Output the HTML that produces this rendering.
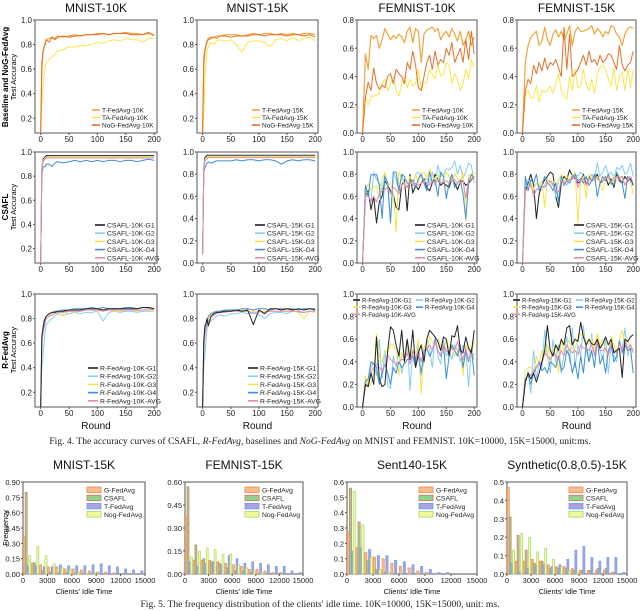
<!DOCTYPE html>
<html><head><meta charset="utf-8">
<style>
body{margin:0;background:#fff;}
svg{display:block;font-family:"Liberation Sans",sans-serif;}
.cap{font-family:"Liberation Serif",serif;font-size:9.6px;fill:#222;}
</style></head>
<body>
<svg id="fig" width="640" height="611" viewBox="0 0 640 611" xmlns="http://www.w3.org/2000/svg">
<text class="cap" x="320" y="444" text-anchor="middle">Fig. 4.  The accuracy curves of CSAFL, <tspan font-style="italic">R-FedAvg</tspan>, baselines and <tspan font-style="italic">NoG-FedAvg</tspan> on MNIST and FEMNIST. 10K=10000, 15K=15000, unit:ms.</text>
<text class="cap" x="320" y="607" text-anchor="middle">Fig. 5.  The frequency distribution of the clients' idle time. 10K=10000, 15K=15000, unit: ms.</text>
<g>
<text transform="translate(8,77) rotate(-90)" text-anchor="middle" font-size="8" font-weight="bold">Baseline and NoG-FedAvg</text>
<text transform="translate(16,77) rotate(-90)" text-anchor="middle" font-size="7.5">Test Accuracy</text></g>
<g>
<text transform="translate(8,207) rotate(-90)" text-anchor="middle" font-size="8" font-weight="bold">CSAFL</text>
<text transform="translate(16,207) rotate(-90)" text-anchor="middle" font-size="7.5">Test Accuracy</text></g>
<g>
<text transform="translate(8,350) rotate(-90)" text-anchor="middle" font-size="8" font-weight="bold">R-FedAvg</text>
<text transform="translate(16,350) rotate(-90)" text-anchor="middle" font-size="7.5">Test Accuracy</text></g>
<g>
<text transform="translate(8,528) rotate(-90)" text-anchor="middle" font-size="7.5">Frequency</text></g>
</svg>
<script>
// ---------- Fig 4 data ----------
const roundsM = [0,2,4,6,8,10,15,20,25,30,40,50,60,70,80,90,100,110,120,130,140,150,160,170,180,190,200];
const roundsF = [0,5,10,15,20,25,30,35,40,45,50,55,60,65,70,75,80,85,90,95,100,105,110,115,120,125,130,135,140,145,150,155,160,165,170,175,180,185,190,195,200];

const m10T  = [0.08,0.6,0.72,0.78,0.82,0.84,0.85,0.86,0.85,0.87,0.86,0.87,0.88,0.87,0.88,0.88,0.89,0.89,0.88,0.89,0.89,0.9,0.89,0.89,0.88,0.89,0.88];
const m10TA = [0.08,0.3,0.45,0.55,0.62,0.65,0.68,0.7,0.72,0.75,0.76,0.78,0.78,0.79,0.79,0.8,0.82,0.81,0.83,0.84,0.83,0.85,0.84,0.84,0.82,0.85,0.85];
const m10N  = [0.08,0.65,0.74,0.78,0.8,0.84,0.82,0.86,0.84,0.86,0.87,0.86,0.87,0.87,0.88,0.88,0.88,0.89,0.88,0.89,0.89,0.89,0.88,0.88,0.88,0.9,0.87];
const m15T  = [0.08,0.62,0.74,0.8,0.83,0.85,0.86,0.86,0.87,0.87,0.88,0.88,0.88,0.87,0.88,0.89,0.88,0.89,0.89,0.88,0.89,0.88,0.89,0.88,0.89,0.89,0.88];
const m15TA = [0.08,0.25,0.5,0.65,0.75,0.78,0.82,0.8,0.83,0.84,0.83,0.84,0.8,0.74,0.82,0.83,0.83,0.82,0.78,0.84,0.85,0.83,0.86,0.83,0.85,0.86,0.83];
const m15N  = [0.08,0.7,0.76,0.8,0.82,0.84,0.85,0.86,0.85,0.87,0.87,0.86,0.87,0.87,0.87,0.88,0.88,0.87,0.88,0.88,0.88,0.87,0.88,0.88,0.87,0.88,0.86];

const f10T  = [0,0.56,0.45,0.69,0.67,0.69,0.6,0.66,0.74,0.7,0.66,0.69,0.67,0.7,0.68,0.64,0.72,0.75,0.64,0.74,0.72,0.5,0.7,0.73,0.74,0.75,0.72,0.74,0.66,0.7,0.72,0.68,0.74,0.7,0.65,0.72,0.62,0.66,0.72,0.62,0.68];
const f10TA = [0,0.25,0.2,0.26,0.26,0.27,0.28,0.35,0.38,0.3,0.35,0.4,0.3,0.26,0.35,0.4,0.32,0.38,0.33,0.35,0.45,0.3,0.35,0.36,0.45,0.42,0.38,0.48,0.4,0.42,0.5,0.48,0.35,0.42,0.38,0.3,0.35,0.45,0.38,0.52,0.46];
const f10N  = [0,0.25,0.36,0.3,0.46,0.35,0.31,0.34,0.32,0.4,0.42,0.35,0.45,0.42,0.4,0.35,0.5,0.45,0.58,0.48,0.32,0.3,0.4,0.5,0.55,0.45,0.58,0.48,0.52,0.5,0.6,0.55,0.64,0.5,0.55,0.6,0.5,0.66,0.52,0.72,0.56];
const f15T  = [0,0.5,0.62,0.68,0.7,0.72,0.62,0.65,0.75,0.66,0.62,0.7,0.73,0.68,0.72,0.66,0.7,0.76,0.62,0.72,0.75,0.72,0.72,0.73,0.74,0.76,0.7,0.74,0.72,0.68,0.72,0.7,0.76,0.75,0.7,0.68,0.62,0.7,0.74,0.75,0.74];
const f15TA = [0,0.27,0.3,0.25,0.25,0.34,0.22,0.3,0.29,0.3,0.33,0.28,0.35,0.42,0.3,0.26,0.24,0.4,0.3,0.45,0.32,0.33,0.45,0.35,0.3,0.38,0.28,0.42,0.46,0.48,0.45,0.38,0.33,0.46,0.3,0.4,0.43,0.3,0.45,0.32,0.45];
const f15N  = [0,0.3,0.38,0.35,0.48,0.42,0.5,0.44,0.53,0.45,0.5,0.48,0.52,0.46,0.4,0.75,0.45,0.7,0.4,0.42,0.45,0.5,0.55,0.48,0.58,0.5,0.52,0.48,0.55,0.5,0.52,0.56,0.55,0.5,0.45,0.62,0.48,0.44,0.48,0.5,0.58];

const cm10G1 = [0.08,0.85,0.94,0.95,0.96,0.97,0.97,0.97,0.97,0.97,0.97,0.97,0.97,0.97,0.97,0.97,0.97,0.97,0.97,0.97,0.97,0.97,0.97,0.97,0.97,0.97,0.97];
const cm10G2 = [0.08,0.84,0.93,0.94,0.95,0.96,0.96,0.96,0.96,0.96,0.96,0.96,0.96,0.96,0.96,0.96,0.96,0.96,0.96,0.96,0.96,0.96,0.96,0.96,0.96,0.96,0.96];
const cm10G3 = [0.08,0.84,0.93,0.94,0.95,0.95,0.96,0.96,0.96,0.96,0.96,0.96,0.96,0.96,0.96,0.96,0.96,0.96,0.96,0.96,0.96,0.96,0.96,0.96,0.96,0.96,0.96];
const cm10G4 = [0.08,0.8,0.87,0.88,0.88,0.9,0.9,0.88,0.91,0.92,0.91,0.92,0.93,0.92,0.93,0.92,0.93,0.92,0.93,0.93,0.92,0.93,0.93,0.92,0.93,0.94,0.93];
const cm10A  = [0.08,0.82,0.92,0.93,0.94,0.95,0.95,0.95,0.95,0.95,0.95,0.95,0.95,0.95,0.95,0.95,0.95,0.95,0.95,0.95,0.95,0.95,0.95,0.95,0.95,0.95,0.95];
const cm15G1 = [0.08,0.86,0.95,0.96,0.97,0.97,0.97,0.97,0.97,0.97,0.97,0.97,0.97,0.97,0.97,0.97,0.97,0.97,0.97,0.97,0.97,0.97,0.97,0.97,0.97,0.97,0.97];
const cm15G2 = [0.08,0.85,0.93,0.95,0.95,0.96,0.96,0.96,0.96,0.96,0.96,0.96,0.96,0.96,0.96,0.96,0.96,0.96,0.96,0.96,0.96,0.96,0.96,0.96,0.96,0.96,0.96];
const cm15G3 = [0.08,0.85,0.93,0.94,0.95,0.96,0.96,0.96,0.96,0.96,0.96,0.96,0.96,0.96,0.96,0.96,0.96,0.96,0.96,0.96,0.96,0.96,0.96,0.96,0.96,0.96,0.96];
const cm15G4 = [0.08,0.82,0.86,0.88,0.9,0.91,0.9,0.91,0.92,0.92,0.92,0.92,0.93,0.92,0.93,0.93,0.92,0.93,0.93,0.92,0.89,0.92,0.93,0.92,0.93,0.93,0.92];
const cm15A  = [0.08,0.83,0.92,0.93,0.94,0.95,0.95,0.95,0.95,0.95,0.95,0.95,0.95,0.95,0.95,0.95,0.95,0.95,0.95,0.95,0.95,0.95,0.95,0.95,0.95,0.95,0.95];

const cf10G1 = [0,0.6,0.65,0.48,0.6,0.36,0.55,0.6,0.74,0.7,0.65,0.62,0.5,0.48,0.7,0.75,0.47,0.8,0.63,0.7,0.66,0.72,0.76,0.68,0.65,0.72,0.8,0.75,0.7,0.72,0.7,0.68,0.76,0.72,0.66,0.73,0.74,0.7,0.72,0.75,0.78];
const cf10G2 = [0,0.68,0.62,0.55,0.82,0.75,0.72,0.65,0.8,0.7,0.37,0.82,0.75,0.65,0.8,0.72,0.68,0.74,0.7,0.8,0.82,0.78,0.74,0.76,0.72,0.82,0.7,0.88,0.78,0.8,0.85,0.84,0.86,0.92,0.8,0.88,0.76,0.82,0.9,0.88,0.72];
const cf10G3 = [0,0.6,0.72,0.65,0.68,0.7,0.6,0.75,0.82,0.7,0.72,0.62,0.28,0.82,0.76,0.7,0.68,0.78,0.72,0.8,0.72,0.8,0.82,0.76,0.85,0.78,0.74,0.8,0.72,0.76,0.82,0.78,0.74,0.8,0.76,0.72,0.82,0.38,0.8,0.76,0.82];
const cf10G4 = [0,0.7,0.6,0.8,0.79,0.8,0.7,0.4,0.78,0.72,0.36,0.82,0.82,0.65,0.8,0.78,0.72,0.72,0.75,0.68,0.76,0.8,0.72,0.65,0.82,0.72,0.75,0.6,0.82,0.78,0.58,0.72,0.8,0.68,0.72,0.75,0.62,0.4,0.72,0.8,0.76];
const cf10A  = [0,0.6,0.6,0.56,0.6,0.55,0.62,0.65,0.66,0.68,0.62,0.68,0.66,0.62,0.7,0.72,0.68,0.74,0.7,0.72,0.7,0.72,0.74,0.72,0.7,0.74,0.72,0.75,0.72,0.73,0.74,0.72,0.76,0.75,0.72,0.75,0.74,0.58,0.76,0.74,0.78];
const cf15G1 = [0,0.65,0.72,0.8,0.7,0.4,0.62,0.7,0.75,0.78,0.82,0.8,0.6,0.5,0.72,0.78,0.75,0.84,0.78,0.76,0.72,0.74,0.8,0.7,0.78,0.74,0.76,0.8,0.72,0.74,0.78,0.7,0.76,0.68,0.8,0.74,0.72,0.78,0.74,0.76,0.7];
const cf15G2 = [0,0.7,0.75,0.7,0.68,0.72,0.7,0.66,0.7,0.75,0.74,0.72,0.6,0.75,0.78,0.74,0.7,0.76,0.75,0.8,0.78,0.82,0.78,0.76,0.74,0.8,0.75,0.9,0.78,0.82,0.88,0.8,0.82,0.76,0.86,0.84,0.88,0.8,0.82,0.9,0.78];
const cf15G3 = [0,0.62,0.7,0.72,0.66,0.72,0.7,0.74,0.5,0.76,0.72,0.74,0.7,0.74,0.8,0.72,0.78,0.74,0.8,0.82,0.36,0.74,0.78,0.58,0.8,0.76,0.74,0.78,0.72,0.65,0.76,0.78,0.7,0.8,0.74,0.76,0.78,0.7,0.76,0.74,0.62];
const cf15G4 = [0,0.78,0.65,0.75,0.72,0.8,0.65,0.7,0.78,0.72,0.7,0.65,0.72,0.55,0.78,0.7,0.74,0.72,0.78,0.8,0.74,0.76,0.72,0.78,0.7,0.74,0.8,0.6,0.72,0.78,0.74,0.8,0.72,0.7,0.82,0.76,0.72,0.58,0.78,0.74,0.72];
const cf15A  = [0,0.65,0.68,0.7,0.6,0.66,0.68,0.7,0.68,0.72,0.74,0.7,0.65,0.64,0.74,0.72,0.74,0.75,0.76,0.78,0.68,0.74,0.76,0.7,0.76,0.75,0.76,0.76,0.74,0.74,0.78,0.76,0.76,0.74,0.78,0.77,0.78,0.7,0.76,0.78,0.72];

const rm10G1 = [0.08,0.65,0.72,0.78,0.8,0.82,0.84,0.85,0.85,0.86,0.86,0.87,0.87,0.87,0.88,0.88,0.88,0.87,0.88,0.88,0.88,0.88,0.88,0.88,0.89,0.89,0.88];
const rm10G2 = [0.08,0.4,0.48,0.6,0.7,0.75,0.78,0.8,0.82,0.84,0.83,0.84,0.85,0.84,0.85,0.85,0.86,0.78,0.85,0.86,0.85,0.86,0.86,0.85,0.86,0.86,0.86];
const rm10G3 = [0.08,0.6,0.7,0.75,0.78,0.8,0.82,0.84,0.84,0.85,0.82,0.86,0.85,0.86,0.87,0.87,0.86,0.87,0.87,0.86,0.86,0.87,0.87,0.86,0.87,0.87,0.86];
const rm10G4 = [0.08,0.6,0.72,0.76,0.8,0.82,0.84,0.85,0.86,0.86,0.87,0.87,0.88,0.88,0.88,0.89,0.88,0.89,0.88,0.88,0.88,0.89,0.89,0.88,0.89,0.89,0.88];
const rm10A  = [0.08,0.58,0.68,0.72,0.77,0.8,0.82,0.83,0.84,0.85,0.85,0.86,0.86,0.86,0.87,0.87,0.87,0.86,0.87,0.87,0.87,0.87,0.87,0.87,0.87,0.88,0.87];
const rm15G1 = [0.08,0.62,0.74,0.76,0.8,0.74,0.82,0.84,0.85,0.85,0.86,0.86,0.87,0.86,0.87,0.75,0.87,0.84,0.88,0.88,0.87,0.88,0.87,0.88,0.87,0.88,0.87];
const rm15G2 = [0.08,0.42,0.5,0.62,0.72,0.76,0.78,0.8,0.82,0.83,0.82,0.84,0.84,0.85,0.84,0.85,0.83,0.8,0.84,0.85,0.85,0.84,0.86,0.85,0.85,0.86,0.85];
const rm15G3 = [0.08,0.55,0.68,0.75,0.78,0.8,0.84,0.86,0.85,0.86,0.86,0.87,0.86,0.87,0.86,0.86,0.85,0.86,0.87,0.86,0.86,0.87,0.86,0.85,0.8,0.86,0.85];
const rm15G4 = [0.08,0.62,0.72,0.76,0.78,0.82,0.84,0.85,0.86,0.86,0.87,0.87,0.87,0.88,0.88,0.87,0.88,0.88,0.87,0.88,0.88,0.88,0.88,0.87,0.88,0.88,0.88];
const rm15A  = [0.08,0.55,0.66,0.72,0.76,0.78,0.81,0.83,0.84,0.85,0.85,0.86,0.86,0.86,0.86,0.84,0.86,0.85,0.86,0.86,0.86,0.86,0.86,0.86,0.85,0.86,0.86];

const rf10G1 = [0,0.2,0.18,0.3,0.2,0.62,0.25,0.18,0.2,0.5,0.71,0.68,0.55,0.45,0.68,0.4,0.6,0.42,0.68,0.35,0.48,0.55,0.4,0.6,0.68,0.65,0.62,0.58,0.5,0.62,0.6,0.45,0.63,0.62,0.72,0.5,0.48,0.62,0.52,0.48,0.68];
const rf10G2 = [0,0.25,0.2,0.35,0.4,0.28,0.6,0.25,0.5,0.2,0.16,0.45,0.35,0.5,0.3,0.4,0.6,0.15,0.5,0.4,0.55,0.28,0.4,0.6,0.5,0.35,0.62,0.45,0.38,0.6,0.45,0.5,0.42,0.55,0.5,0.4,0.55,0.5,0.18,0.5,0.42];
const rf10G3 = [0,0.28,0.18,0.2,0.3,0.65,0.45,0.4,0.5,0.48,0.56,0.55,0.5,0.28,0.48,0.42,0.55,0.45,0.5,0.48,0.6,0.12,0.55,0.5,0.62,0.58,0.55,0.6,0.55,0.48,0.6,0.52,0.55,0.45,0.5,0.52,0.28,0.55,0.5,0.45,0.6];
const rf10G4 = [0,0.22,0.25,0.4,0.38,0.35,0.2,0.3,0.38,0.3,0.2,0.35,0.3,0.4,0.35,0.38,0.42,0.42,0.45,0.35,0.45,0.3,0.5,0.52,0.45,0.5,0.6,0.5,0.45,0.55,0.25,0.45,0.55,0.5,0.45,0.55,0.35,0.5,0.4,0.52,0.28];
const rf10A  = [0,0.18,0.2,0.3,0.35,0.38,0.35,0.32,0.38,0.46,0.42,0.4,0.38,0.4,0.42,0.42,0.48,0.38,0.5,0.42,0.5,0.4,0.5,0.52,0.55,0.5,0.58,0.5,0.46,0.55,0.5,0.48,0.52,0.5,0.58,0.48,0.42,0.52,0.42,0.48,0.46];
const rf15G1 = [0,0.22,0.3,0.25,0.3,0.22,0.3,0.4,0.5,0.72,0.5,0.45,0.55,0.5,0.6,0.55,0.7,0.72,0.55,0.6,0.58,0.75,0.62,0.55,0.6,0.56,0.55,0.6,0.52,0.56,0.62,0.55,0.6,0.48,0.5,0.52,0.26,0.6,0.58,0.62,0.64];
const rf15G2 = [0,0.2,0.32,0.12,0.5,0.25,0.4,0.35,0.68,0.45,0.3,0.6,0.4,0.55,0.3,0.48,0.62,0.4,0.7,0.35,0.55,0.45,0.72,0.5,0.4,0.65,0.45,0.58,0.5,0.42,0.6,0.3,0.55,0.45,0.4,0.6,0.5,0.7,0.45,0.55,0.5];
const rf15G3 = [0,0.32,0.35,0.35,0.3,0.45,0.38,0.5,0.45,0.55,0.4,0.5,0.55,0.3,0.6,0.48,0.55,0.6,0.5,0.52,0.6,0.65,0.62,0.58,0.55,0.62,0.5,0.65,0.55,0.6,0.5,0.45,0.62,0.55,0.48,0.6,0.68,0.55,0.6,0.5,0.52];
const rf15G4 = [0,0.25,0.28,0.2,0.3,0.35,0.4,0.32,0.35,0.3,0.4,0.38,0.35,0.45,0.32,0.35,0.5,0.45,0.3,0.4,0.25,0.45,0.3,0.55,0.4,0.5,0.35,0.6,0.38,0.45,0.3,0.5,0.55,0.4,0.45,0.58,0.48,0.55,0.5,0.52,0.3];
const rf15A  = [0,0.22,0.3,0.28,0.32,0.35,0.4,0.38,0.48,0.45,0.42,0.48,0.46,0.42,0.5,0.45,0.55,0.5,0.48,0.5,0.46,0.55,0.52,0.52,0.5,0.55,0.46,0.58,0.5,0.5,0.52,0.46,0.56,0.5,0.48,0.56,0.5,0.58,0.52,0.55,0.48];

// ---------- Fig 5 data ----------
const binStarts = [0,1000,2000,3000,4000,5000,6000,7000,8000,9000,10000,11000,12000,13000,14000];
const mnG = [0.37,0.11,0.09,0.07,0.07,0.05,0.05,0.04,0.03,0.02,0.02,0.01,0,0,0];
const mnC = [0.80,0.11,0.03,0.02,0.01,0.01,0,0,0,0,0,0,0,0,0];
const mnT = [0.08,0.08,0.07,0.07,0.09,0.08,0.08,0.08,0.09,0.10,0.08,0.07,0.05,0.04,0.03];
const mnN = [0.18,0.27,0.18,0.10,0.06,0.05,0.02,0.01,0.01,0,0,0,0,0,0];
const feG = [0.37,0.09,0.09,0.09,0.08,0.07,0.06,0.05,0.03,0.03,0.02,0.01,0.01,0,0];
const feC = [0.57,0.19,0.10,0.08,0.07,0.04,0.02,0.02,0.01,0,0,0,0,0,0];
const feT = [0.08,0.05,0.07,0.08,0.06,0.12,0.10,0.07,0.08,0.07,0.06,0.05,0.05,0.02,0.01];
const feN = [0.11,0.15,0.17,0.16,0.13,0.13,0.06,0.04,0.02,0.01,0,0,0,0,0];
const seG = [0.28,0.17,0.14,0.11,0.10,0.07,0.05,0.04,0.02,0.01,0,0,0,0,0];
const seC = [0.56,0.34,0.09,0.03,0.01,0,0,0,0,0,0,0,0,0,0];
const seT = [0.15,0.17,0.16,0.12,0.12,0.09,0.08,0.06,0.05,0.03,0.01,0.01,0,0,0];
const seN = [0.54,0.32,0.11,0.03,0.01,0,0,0,0,0,0,0,0,0,0];
const syG = [0.47,0.07,0.07,0.08,0.07,0.05,0.04,0.04,0.03,0.02,0.02,0.02,0.02,0.01,0];
const syC = [0.31,0.21,0.13,0.06,0.07,0.03,0.03,0.03,0.02,0.02,0.02,0.03,0.03,0.01,0];
const syT = [0.06,0.01,0.03,0.05,0.05,0.04,0.05,0.08,0.13,0.15,0.09,0.07,0.09,0.09,0.01];
const syN = [0.13,0.22,0.20,0.12,0.14,0.08,0.04,0.02,0.01,0,0,0,0,0,0];

const xTicksRound = [0,50,100,150,200];
const xTicksIdle = [0,3000,6000,9000,12000,15000];

const NS = 'http://www.w3.org/2000/svg';
const svg = document.getElementById('fig');
function mk(tag, attrs, parent){
  const e = document.createElementNS(NS, tag);
  for (const k in attrs) e.setAttribute(k, attrs[k]);
  (parent||svg).appendChild(e);
  return e;
}
function txt(s, attrs, parent){ const e = mk('text', attrs, parent); e.textContent = s; return e; }

function axes(p){
  const g = mk('g', {});
  
  
  p.g = g;
  p.sx = v => p.x0 + (v - p.xmin) / (p.xmax - p.xmin) * (p.x1 - p.x0);
  p.sy = v => p.y1 - (v - p.ymin) / (p.ymax - p.ymin) * (p.y1 - p.y0);
  const fr = mk('rect', {x:p.x0, y:p.y0, width:p.x1-p.x0, height:p.y1-p.y0, fill:'none', stroke:'#555', 'stroke-width':1}, g);
  
  
  p.yticks.forEach(t => {
    const y = p.sy(t);
    mk('line', {x1:p.x0-2, x2:p.x0, y1:y, y2:y, stroke:'#555'}, g);
    const l = txt(t.toFixed(p.dec), {x:p.x0-3, y:y+3, 'text-anchor':'end', 'font-size':p.fs||8, fill:'#222'}, g);
    
    
  });
  p.xticks.forEach(t => {
    const x = p.sx(t);
    mk('line', {x1:x, x2:x, y1:p.y1, y2:p.y1+2, stroke:'#555'}, g);
    const l = txt(String(t), {x:x, y:p.y1+9, 'text-anchor':'middle', 'font-size':p.fs||8, fill:'#222'}, g);
    
    
  });
  if (p.title){
    const t = txt(p.title, {x:(p.x0+p.x1)/2, y:p.ty, 'text-anchor':'middle', 'font-size':12, fill:'#111'}, g);
    
    
  }
  if (p.xlabel){
    const t = txt(p.xlabel, {x:(p.x0+p.x1)/2, y:p.y1+p.xlo, 'text-anchor':'middle', 'font-size':p.xlfs, fill:'#111'}, g);
    
    
  }
}
function series(p, xs, ys, color, w, name){
  const d = xs.map((x,i) => (i?'L':'M') + p.sx(x).toFixed(1) + ',' + p.sy(Math.max(ys[i], p.ymin)).toFixed(1)).join('');
  const path = mk('path', {d:d, fill:'none', stroke:color, 'stroke-width':w, 'stroke-linejoin':'round'}, p.g);
  
  
}
function legend(p, items, lx, ly, dy, lw, fs){
  items.forEach((it, i) => {
    const x = lx + (it.col||0), y = ly + (it.row!==undefined ? it.row : i) * dy;
    const g = mk('g', {}, p.g);
    
    
    mk('line', {x1:x, x2:x+lw, y1:y, y2:y, stroke:it.c, 'stroke-width':1.6}, g);
    txt(it.t, {x:x+lw+2, y:y+2.5, 'font-size':fs||6.8, fill:'#222'}, g);
  });
}

const cT='#f0a43c', cTA='#fbe64a', cN='#e5702a';
const cG1='#222', cG2='#86cdf3', cG3='#f5e44a', cG4='#3f8fd0', cAV='#e48ab8';
const rowTicksA = [0.2,0.4,0.6,0.8,1.0];

function linePanel(cfg){
  const p = Object.assign({xmin:-10, xmax:205, xticks:xTicksRound, dec:1}, cfg);
  axes(p);
  return p;
}

// Row 1
let p;
p = linePanel({name:'panel-mnist-10k-baseline', x0:35,x1:157,y0:20,y1:133,ymin:0.08,ymax:1.0,yticks:rowTicksA,title:'MNIST-10K',ty:12});
series(p, roundsM, m10TA, cTA, 1, 'line-ta-fedavg'); series(p, roundsM, m10T, cT, 1.2, 'line-t-fedavg'); series(p, roundsM, m10N, cN, 1, 'line-nog-fedavg');
legend(p, [{t:'T-FedAvg-10K',c:cT},{t:'TA-FedAvg-10K',c:cTA},{t:'NoG-FedAvg-10K',c:cN}], 92, 110, 7.5, 8, 6.5);
p = linePanel({name:'panel-mnist-15k-baseline', x0:197,x1:318,y0:20,y1:133,ymin:0.08,ymax:1.0,yticks:rowTicksA,title:'MNIST-15K',ty:12});
series(p, roundsM, m15TA, cTA, 1, 'line-ta-fedavg'); series(p, roundsM, m15T, cT, 1.2, 'line-t-fedavg'); series(p, roundsM, m15N, cN, 1, 'line-nog-fedavg');
legend(p, [{t:'T-FedAvg-15K',c:cT},{t:'TA-FedAvg-15K',c:cTA},{t:'NoG-FedAvg-15K',c:cN}], 252, 110, 7.5, 8, 6.5);
p = linePanel({name:'panel-femnist-10k-baseline', x0:357,x1:477,y0:20,y1:133,ymin:0,ymax:0.8,yticks:[0,0.2,0.4,0.6,0.8],title:'FEMNIST-10K',ty:12});
series(p, roundsF, f10TA, cTA, 1, 'line-ta-fedavg'); series(p, roundsF, f10T, cT, 1.2, 'line-t-fedavg'); series(p, roundsF, f10N, cN, 1, 'line-nog-fedavg');
legend(p, [{t:'T-FedAvg-10K',c:cT},{t:'TA-FedAvg-10K',c:cTA},{t:'NoG-FedAvg-10K',c:cN}], 412, 110, 7.5, 8, 6.5);
p = linePanel({name:'panel-femnist-15k-baseline', x0:517,x1:636,y0:20,y1:133,ymin:0,ymax:0.8,yticks:[0,0.2,0.4,0.6,0.8],title:'FEMNIST-15K',ty:12});
series(p, roundsF, f15TA, cTA, 1, 'line-ta-fedavg'); series(p, roundsF, f15T, cT, 1.2, 'line-t-fedavg'); series(p, roundsF, f15N, cN, 1, 'line-nog-fedavg');
legend(p, [{t:'T-FedAvg-15K',c:cT},{t:'TA-FedAvg-15K',c:cTA},{t:'NoG-FedAvg-15K',c:cN}], 572, 110, 7.5, 8, 6.5);

// Row 2 CSAFL
function csafl(name, x0, x1, ymin, ticks, rs, s, tag, lx){
  const q = linePanel({name:name, x0:x0,x1:x1,y0:152,y1:263,ymin:ymin,ymax:1.0,yticks:ticks});
  series(q, rs, s[0], cG1, 1, 'line-g1'); series(q, rs, s[1], cG2, 1, 'line-g2'); series(q, rs, s[2], cG3, 1, 'line-g3');
  series(q, rs, s[3], cG4, 1, 'line-g4'); series(q, rs, s[4], cAV, 1, 'line-avg');
  legend(q, [{t:'CSAFL-'+tag+'-G1',c:cG1},{t:'CSAFL-'+tag+'-G2',c:cG2},{t:'CSAFL-'+tag+'-G3',c:cG3},{t:'CSAFL-'+tag+'-G4',c:cG4},{t:'CSAFL-'+tag+'-AVG',c:cAV}], lx, 225, 8.2, 10);
}
csafl('panel-mnist-10k-csafl', 35,157, 0.08, rowTicksA, roundsM, [cm10G1,cm10G2,cm10G3,cm10G4,cm10A], '10K', 95);
csafl('panel-mnist-15k-csafl', 197,318, 0, [0,0.2,0.4,0.6,0.8,1.0], roundsM, [cm15G1,cm15G2,cm15G3,cm15G4,cm15A], '15K', 255);
csafl('panel-femnist-10k-csafl', 357,477, 0, [0,0.2,0.4,0.6,0.8,1.0], roundsF, [cf10G1,cf10G2,cf10G3,cf10G4,cf10A], '10K', 415);
csafl('panel-femnist-15k-csafl', 517,636, 0, [0,0.2,0.4,0.6,0.8,1.0], roundsF, [cf15G1,cf15G2,cf15G3,cf15G4,cf15A], '15K', 574);

// Row 3 R-FedAvg
function rfed(name, x0, x1, ymin, ticks, rs, s, tag, mode, lx){
  const q = linePanel({name:name, x0:x0,x1:x1,y0:294,y1:407,ymin:ymin,ymax:1.0,yticks:ticks,xlabel:'Round',xlo:22,xlfs:10});
  series(q, rs, s[1], cG2, 1, 'line-g2'); series(q, rs, s[2], cG3, 1, 'line-g3');
  series(q, rs, s[3], cG4, 1, 'line-g4'); series(q, rs, s[4], cAV, 1, 'line-avg'); series(q, rs, s[0], cG1, 1, 'line-g1');
  const nm = i => 'R-FedAvg-'+tag+'-'+['G1','G2','G3','G4','AVG'][i];
  if (mode === 'stack'){
    legend(q, [0,1,2,3,4].map(i => ({t:nm(i), c:[cG1,cG2,cG3,cG4,cAV][i]})), lx, 368, 8.2, 10);
  } else {
    legend(q, [{t:nm(0),c:cG1,row:0,col:0},{t:nm(1),c:cG2,row:0,col:63},{t:nm(2),c:cG3,row:1,col:0},{t:nm(3),c:cG4,row:1,col:63},{t:nm(4),c:cAV,row:2,col:0}], lx, 300, 7.2, 7, 6);
  }
}
rfed('panel-mnist-10k-rfedavg', 35,157, 0.08, rowTicksA, roundsM, [rm10G1,rm10G2,rm10G3,rm10G4,rm10A], '10K', 'stack', 88);
rfed('panel-mnist-15k-rfedavg', 197,318, 0.08, rowTicksA, roundsM, [rm15G1,rm15G2,rm15G3,rm15G4,rm15A], '15K', 'stack', 248);
rfed('panel-femnist-10k-rfedavg', 357,477, 0, [0,0.2,0.4,0.6,0.8,1.0], roundsF, [rf10G1,rf10G2,rf10G3,rf10G4,rf10A], '10K', 'grid', 353);
rfed('panel-femnist-15k-rfedavg', 517,636, 0, [0,0.2,0.4,0.6,0.8,1.0], roundsF, [rf15G1,rf15G2,rf15G3,rf15G4,rf15A], '15K', 'grid', 513);

// Fig 5 histograms
const barStyles = [
  {f:'#f7bd8e', s:'#e88a4e', n:'G-FedAvg'},
  {f:'#8fd38f', s:'#e0705e', n:'CSAFL'},
  {f:'#aaa2e2', s:'#6c9ceb', n:'T-FedAvg'},
  {f:'#f4f89c', s:'#9ad86a', n:'Nog-FedAvg'}
];
function hist(name, title, x0, x1, ymax, ticks, dec, sets){
  const q = {name:name, x0:x0, x1:x1, y0:482, y1:574, xmin:0, xmax:15000, ymin:0, ymax:ymax, yticks:ticks, xticks:xTicksIdle, dec:dec, title:title, ty:469, xlabel:"Clients' Idle Time", xlo:20, xlfs:7.5, fs:7.5};
  axes(q);
  const bw = q.sx(1000) - q.sx(0);
  sets.forEach((vals, k) => {
    vals.forEach((v, i) => {
      if (v <= 0) return;
      const bx = q.sx(binStarts[i]) + k * bw * 0.22 + bw*0.04;
      const r = mk('rect', {x:bx.toFixed(1), y:q.sy(v).toFixed(1), width:(bw*0.26).toFixed(1), height:(q.y1 - q.sy(v)).toFixed(1), fill:barStyles[k].f, stroke:barStyles[k].s, 'stroke-width':0.6}, q.g);
      
      
    });
  });
  const lx = x1 - 58;
  barStyles.forEach((b, k) => {
    const g = mk('g', {}, q.g);
    
    
    mk('rect', {x:lx, y:487 + k*8.2, width:14, height:5.5, fill:b.f, stroke:b.s, 'stroke-width':0.8}, g);
    txt(b.n, {x:lx+17, y:492.5 + k*8.2, 'font-size':6.8, fill:'#222'}, g);
  });
}
hist('panel-hist-mnist', 'MNIST-15K', 23, 145, 0.9, [0,0.15,0.3,0.45,0.6,0.75,0.9], 2, [mnG,mnC,mnT,mnN]);
hist('panel-hist-femnist', 'FEMNIST-15K', 185, 303, 0.6, [0,0.15,0.3,0.45,0.6], 2, [feG,feC,feT,feN]);
hist('panel-hist-sent140', 'Sent140-15K', 347, 477, 0.6, [0,0.1,0.2,0.3,0.4,0.5,0.6], 1, [seG,seC,seT,seN]);
hist('panel-hist-synthetic', 'Synthetic(0.8,0.5)-15K', 507, 627, 0.5, [0,0.1,0.2,0.3,0.4,0.5], 1, [syG,syC,syT,syN]);
</script>
</body></html>
